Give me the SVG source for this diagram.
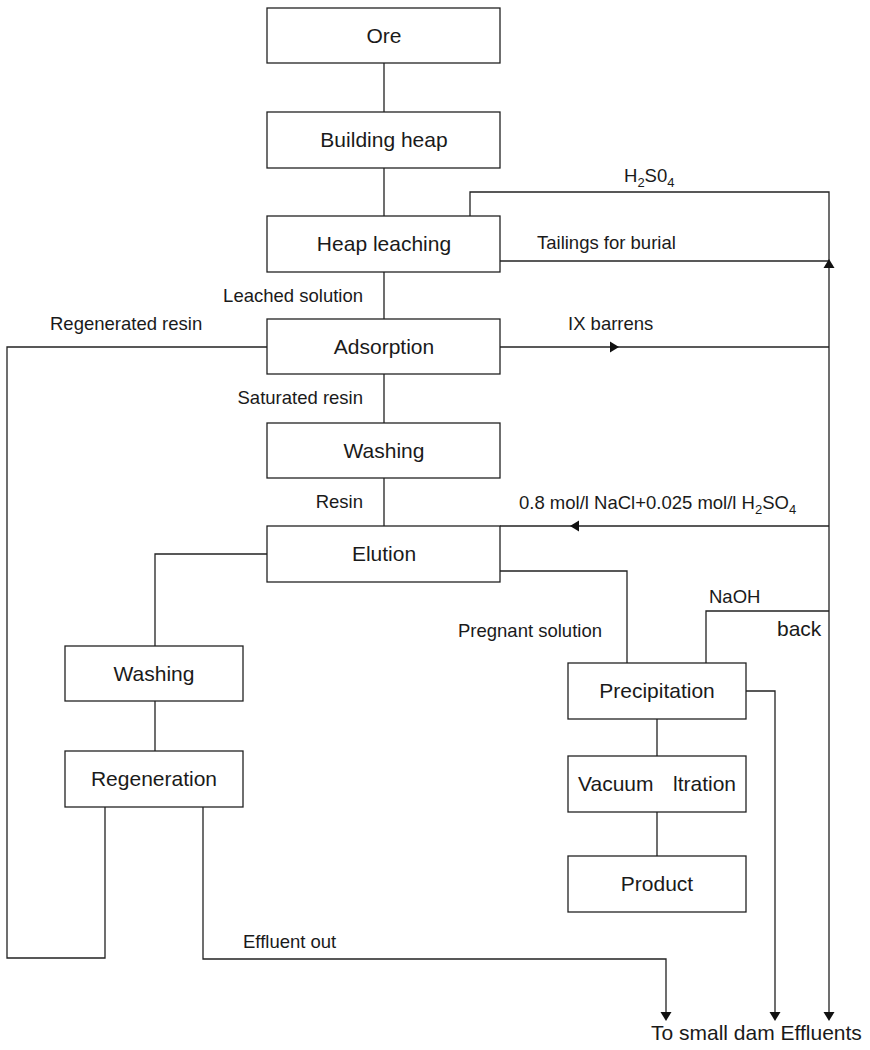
<svg xmlns="http://www.w3.org/2000/svg" xmlns:xlink="http://www.w3.org/1999/xlink" width="870" height="1050" viewBox="0 0 870 1050">
<style>
  .box { fill: #fff; stroke: #222; stroke-width: 1.3; }
  .bt { font-family: "Liberation Sans", Arial, Helvetica, sans-serif; font-size: 21px; fill: #1a1a1a; text-anchor: middle; }
  .lb { font-family: "Liberation Sans", Arial, Helvetica, sans-serif; font-size: 18.5px; fill: #1a1a1a; }
  .ln { fill: none; stroke: #222; stroke-width: 1.3; }
  .ah { fill: #111; }
</style>
<defs>
  <path id="ah" d="M0,0 L-9,-5.5 L-9,5.5 Z"/>
</defs>
<rect width="870" height="1050" fill="#fff"/>

<g id="connectors">
  <!-- main column -->
  <path class="ln" d="M384,63 V112 M384,168 V216 M384,272 V319 M384,374 V423 M384,478 V526"/>
  <!-- H2SO4 -->
  <path class="ln" d="M470,216 V192 H829 V1013"/>
  <!-- tailings -->
  <path class="ln" d="M500,261 H829"/>
  <!-- IX barrens -->
  <path class="ln" d="M500,347 H829"/>
  <!-- eluant -->
  <path class="ln" d="M500,526 H829"/>
  <!-- NaOH -->
  <path class="ln" d="M706,663 V611 H829"/>
  <!-- pregnant solution -->
  <path class="ln" d="M500,571 H627 V663"/>
  <!-- precipitation effluent -->
  <path class="ln" d="M746,691 H775 V1013"/>
  <!-- right column -->
  <path class="ln" d="M657,719 V756 M657,812 V856"/>
  <!-- elution to left washing -->
  <path class="ln" d="M267,554 H155 V646 M155,701 V751"/>
  <!-- regenerated resin loop -->
  <path class="ln" d="M105,807 V958 H7 V347 H267"/>
  <!-- effluent out -->
  <path class="ln" d="M203,807 V959 H666 V1013"/>
  <!-- arrowheads -->
  <use xlink:href="#ah" class="ah" transform="translate(829,259) rotate(-90)"/>
  <use xlink:href="#ah" class="ah" transform="translate(619,347)"/>
  <use xlink:href="#ah" class="ah" transform="translate(570,526) rotate(180)"/>
  <use xlink:href="#ah" class="ah" transform="translate(666,1021) rotate(90)"/>
  <use xlink:href="#ah" class="ah" transform="translate(775,1021) rotate(90)"/>
  <use xlink:href="#ah" class="ah" transform="translate(829,1021) rotate(90)"/>
</g>

<g id="labels">
  <text class="lb" x="624" y="182">H<tspan font-size="13" dy="5">2</tspan><tspan dy="-5">S0</tspan><tspan font-size="13" dy="5">4</tspan></text>
  <text class="lb" x="537" y="249">Tailings for burial</text>
  <text class="lb" x="363" y="302" style="text-anchor:end">Leached solution</text>
  <text class="lb" x="50" y="330">Regenerated resin</text>
  <text class="lb" x="568" y="330">IX barrens</text>
  <text class="lb" x="363" y="404" style="text-anchor:end">Saturated resin</text>
  <text class="lb" x="363" y="508" style="text-anchor:end">Resin</text>
  <text class="lb" x="519" y="509">0.8 mol/l NaCl+0.025 mol/l H<tspan font-size="13" dy="5">2</tspan><tspan dy="-5">SO</tspan><tspan font-size="13" dy="5">4</tspan></text>
  <text class="lb" x="709" y="603">NaOH</text>
  <text class="lb" x="777" y="636" style="font-size:21px">back</text>
  <text class="lb" x="458" y="637">Pregnant solution</text>
  <text class="lb" x="243" y="948">Effluent out</text>
  <text class="lb" x="651" y="1040" style="font-size:21px">To small dam Effluents</text>
</g>

<g id="ore"><rect class="box" x="267" y="8" width="233" height="55"/><text class="bt" x="384" y="43">Ore</text></g>
<g id="building-heap"><rect class="box" x="267" y="112" width="233" height="56"/><text class="bt" x="384" y="147">Building heap</text></g>
<g id="heap-leaching"><rect class="box" x="267" y="216" width="233" height="56"/><text class="bt" x="384" y="251">Heap leaching</text></g>
<g id="adsorption"><rect class="box" x="267" y="319" width="233" height="55"/><text class="bt" x="384" y="354">Adsorption</text></g>
<g id="washing"><rect class="box" x="267" y="423" width="233" height="55"/><text class="bt" x="384" y="458">Washing</text></g>
<g id="elution"><rect class="box" x="267" y="526" width="233" height="56"/><text class="bt" x="384" y="561">Elution</text></g>
<g id="washing-2"><rect class="box" x="65" y="646" width="178" height="55"/><text class="bt" x="154" y="681">Washing</text></g>
<g id="regeneration"><rect class="box" x="65" y="751" width="178" height="56"/><text class="bt" x="154" y="786">Regeneration</text></g>
<g id="precipitation"><rect class="box" x="568" y="663" width="178" height="56"/><text class="bt" x="657" y="698">Precipitation</text></g>
<g id="vacuum-filtration"><rect class="box" x="568" y="756" width="178" height="56"/><text class="bt" x="578" y="791" style="text-anchor:start">Vacuum<tspan x="673">ltration</tspan></text></g>
<g id="product"><rect class="box" x="568" y="856" width="178" height="56"/><text class="bt" x="657" y="891">Product</text></g>
</svg>
